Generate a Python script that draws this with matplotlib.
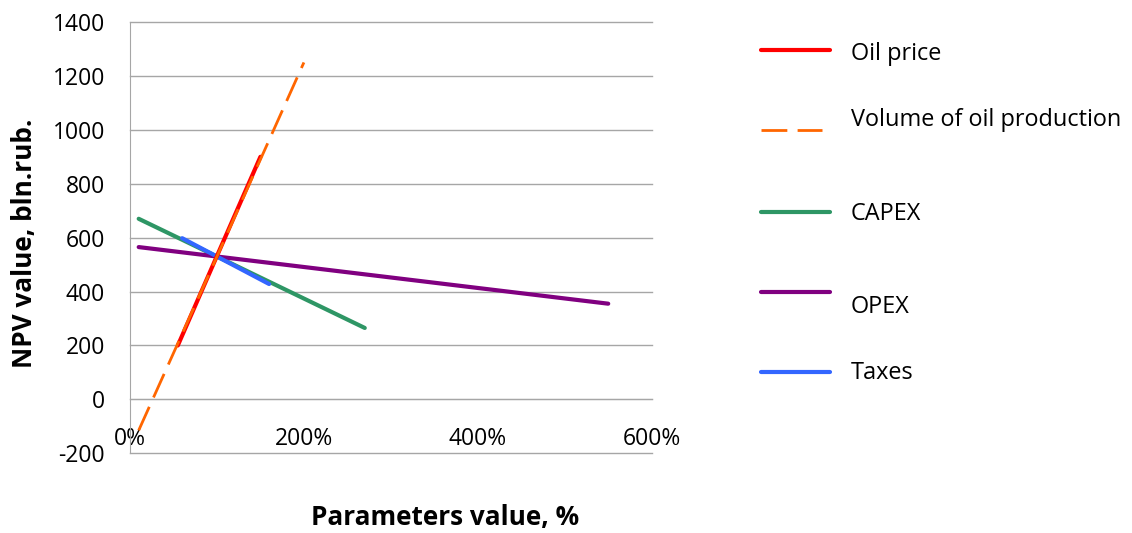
#!/usr/bin/env python3
"""NPV sensitivity chart: NPV vs. parameter value."""

import matplotlib

matplotlib.use("Agg")
import matplotlib.pyplot as plt
from matplotlib.lines import Line2D

plt.rcParams["font.family"] = ["Open Sans", "DejaVu Sans"]
plt.rcParams["axes.unicode_minus"] = False

# parameter values, % of base case
oil_price_x = [55, 100, 150]
oil_price_y = [200, 532, 900]

volume_x = [10, 100, 200]
volume_y = [-115, 530, 1250]

capex_x = [10, 100, 270]
capex_y = [670, 530, 265]

opex_x = [10, 100, 550]
opex_y = [565, 530, 355]

taxes_x = [60, 100, 160]
taxes_y = [598, 530, 428]

x_ticks = [0, 200, 400, 600]
x_tick_labels = ["0%", "200%", "400%", "600%"]
y_ticks = list(range(-200, 1401, 200))

W, H = 1132, 533
fig = plt.figure(figsize=(W / 100, H / 100), dpi=100)
ax = fig.add_axes([130 / W, 1 - 453.3 / H, (651.7 - 130) / W, (453.3 - 22) / H])

GRID = "#a6a6a6"
series = [
    ("CAPEX", capex_x, capex_y, "#2e9665", "-", 2),
    ("OPEX", opex_x, opex_y, "#800080", "-", 3),
    ("Taxes", taxes_x, taxes_y, "#3366ff", "-", 4),
    ("Oil price", oil_price_x, oil_price_y, "#ff0000", "-", 5),
    ("Volume of oil production", volume_x, volume_y, "#ff6600", "--", 6),
]
for name, xs, ys, color, style, z in series:
    if style == "--":
        ax.plot(xs, ys, color=color, linewidth=2, dashes=(9.3, 3.7), zorder=z)
    else:
        ax.plot(xs, ys, color=color, linewidth=3, solid_capstyle="round", zorder=z)

ax.set_xlim(0, 600)
ax.set_ylim(-200, 1400)
ax.set_xticks(x_ticks)
ax.set_xticklabels(x_tick_labels)
ax.set_yticks(y_ticks)
ax.grid(axis="y", color=GRID, linewidth=1, clip_on=False)
ax.set_axisbelow(True)

for side in ["top", "right"]:
    ax.spines[side].set_visible(False)
ax.spines["bottom"].set_position(("data", 0))
ax.spines["bottom"].set_color(GRID)
ax.spines["left"].set_color(GRID)
ax.tick_params(axis="both", length=0, labelsize=16.5, colors="black")
ax.tick_params(axis="x", pad=20)
ax.tick_params(axis="y", pad=18)

fig.text(25 / W, 1 - 243 / H, "NPV value, bln.rub.", rotation=90, fontsize=18.8,
         fontweight="bold", ha="center", va="center")
fig.text(445 / W, 1 - 518 / H, "Parameters value, %", fontsize=18.8,
         fontweight="bold", ha="center", va="center")

# hand-placed legend, spaced like the original
legend_items = [
    ("Oil price", "#ff0000", "-", 50, 54),
    ("Volume of oil production", "#ff6600", "--", 130, 120),
    ("CAPEX", "#2e9665", "-", 211.7, 214),
    ("OPEX", "#800080", "-", 291.7, 307),
    ("Taxes", "#3366ff", "-", 372, 373),
]
for label, color, style, line_y, text_y in legend_items:
    if style == "--":
        handle = Line2D([761 / W, 822 / W], [1 - line_y / H] * 2, color=color,
                        linewidth=2, dashes=(9.3, 3.7), transform=fig.transFigure)
    else:
        handle = Line2D([761 / W, 830 / W], [1 - line_y / H] * 2, color=color,
                        linewidth=3, solid_capstyle="round", transform=fig.transFigure)
    fig.add_artist(handle)
    fig.text(851 / W, 1 - text_y / H, label, fontsize=16.9, ha="left", va="center")

fig.savefig("out.png", dpi=100)
